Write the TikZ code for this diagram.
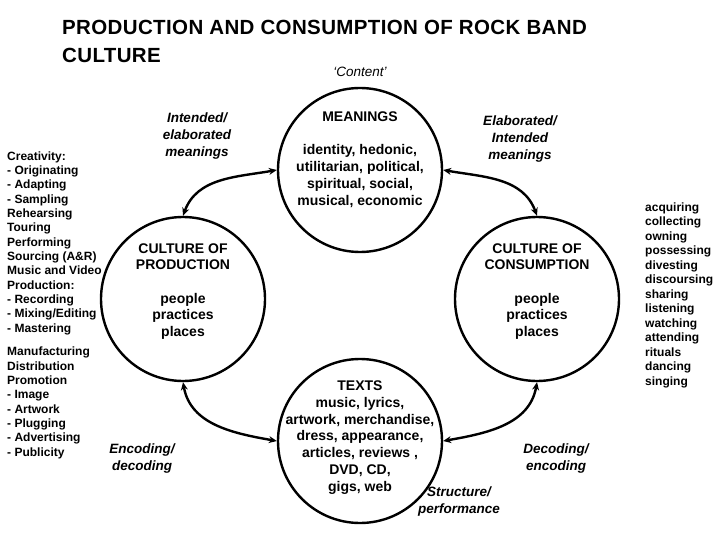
\documentclass[tikz,border=0pt]{standalone}
\usepackage{fontspec}
\setmainfont{Liberation Sans}
\usetikzlibrary{arrows.meta}
\begin{document}
\begin{tikzpicture}[x=1pt,y=1pt,
  ring/.style={circle, draw, line width=2.4pt, minimum size=164pt, inner sep=0pt},
  ctext/.style={align=center, font=\fontsize{14}{16.7}\selectfont\bfseries, inner sep=0pt},
  side/.style={align=left, font=\fontsize{12}{14.33}\selectfont\bfseries, inner sep=0pt, anchor=west},
  lab/.style={align=center, font=\fontsize{13.5}{17}\selectfont\bfseries\itshape, inner sep=0pt},
  link/.style={line width=2.4pt, {Stealth[length=8pt,width=7pt]}-{Stealth[length=8pt,width=7pt]}}
]
\useasboundingbox[fill=white] (0,0) rectangle (720,-540);

% title
\node[anchor=north west, align=left, inner sep=0pt,
      font=\fontsize{20.5}{28}\selectfont\bfseries\addfontfeatures{LetterSpace=1.8}] (title) at (62,-20)
  {PRODUCTION AND CONSUMPTION OF ROCK BAND\\ CULTURE};
\node[inner sep=0pt, font=\fontsize{13.5}{16}\selectfont\itshape] (content) at (360,-72) {‘Content’};

% circles
\node[ring] (M) at (360,-170) {};
\node[ring] (P) at (183,-299) {};
\node[ring] (C) at (537,-299) {};
\node[ring] (T) at (360,-441) {};

% circle texts
\node[ctext] (Mt) at (360,-159.5) {MEANINGS\\[16.7pt] identity, hedonic,\\ utilitarian, political,\\ spiritual, social,\\ musical, economic};
\node[ctext] (Pt) at (183,-291.5) {CULTURE OF\\ PRODUCTION\\[16.7pt] people\\ practices\\ places};
\node[ctext] (Ct) at (537,-291.5) {CULTURE OF\\ CONSUMPTION\\[16.7pt] people\\ practices\\ places};
\node[ctext] (Tt) at (360,-437.5) {TEXTS\\ music, lyrics,\\ artwork, merchandise,\\ dress, appearance,\\ articles, reviews ,\\ DVD, CD,\\ gigs, web};

% side lists
\node[side] (L1) at (7,-243) {Creativity:\\ - Originating\\ - Adapting\\ - Sampling\\ Rehearsing\\ Touring\\ Performing\\ Sourcing (A\&R)\\ Music and  Video\\ Production:\\ - Recording\\ - Mixing/Editing\\ - Mastering};
\node[side] (L2) at (7,-403) {Manufacturing\\ Distribution\\ Promotion\\ - Image\\ - Artwork\\ - Plugging\\ - Advertising\\ - Publicity};
\node[side, font=\fontsize{12}{14.5}\selectfont\bfseries] (R) at (645,-295) {acquiring\\ collecting\\ owning\\ possessing\\ divesting\\ discoursing\\ sharing\\ listening\\ watching\\ attending\\ rituals\\ dancing\\ singing};

% italic labels
\node[lab] (l1) at (197,-136) {Intended/\\ elaborated\\ meanings};
\node[lab] (l2) at (520,-139) {Elaborated/\\ Intended\\ meanings};
\node[lab] (l3) at (142,-459) {Encoding/\\ decoding};
\node[lab] (l4) at (556,-459) {Decoding/\\ encoding};
\node[lab] (l5) at (459,-501.5) {Structure/\\ performance};

% connectors
\draw[link] (M.west) to[out=190,in=70] (P.north);
\draw[link] (M.east) to[out=-10,in=110] (C.north);
\draw[link] (P.south) to[out=-80,in=170] (T.west);
\draw[link] (C.south) to[out=-100,in=10] (T.east);
\end{tikzpicture}
\end{document}
